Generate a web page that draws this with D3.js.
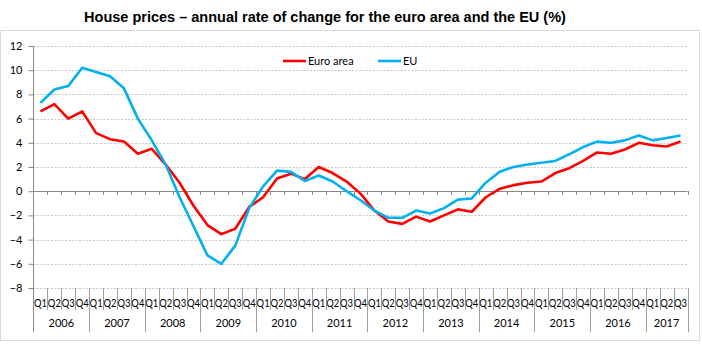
<!DOCTYPE html>
<html><head><meta charset="utf-8">
<script src="https://cdn.jsdelivr.net/npm/d3@7"></script>
<style>body{margin:0;background:#fff}svg{display:block}</style>
</head><body><svg id="c" width="702" height="359"></svg>
<script>
const years = ["2006","2007","2008","2009","2010","2011","2012","2013","2014","2015","2016","2017"];
const quarterLabels = ["Q1","Q2","Q3","Q4"];
const euroArea = [6.6,7.2,6.0,6.6,4.8,4.3,4.1,3.1,3.5,2.2, 0.7,-1.2,-2.8,-3.55,-3.1,-1.3,-0.5,1.05,1.45,1.0, 2.0,1.5,0.8,-0.2,-1.6,-2.5,-2.7,-2.1,-2.5,-2.0, -1.5,-1.7,-0.5,0.2,0.5,0.7,0.8,1.5,1.9,2.5, 3.2,3.1,3.45,4.0,3.8,3.7,4.1];
const eu = [7.3,8.4,8.7,10.2,9.85,9.5,8.5,6.0,4.2,2.2, -0.5,-2.9,-5.3,-6.0,-4.5,-1.4,0.4,1.7,1.6,0.85, 1.3,0.8,0.0,-0.75,-1.6,-2.2,-2.2,-1.6,-1.85,-1.4, -0.7,-0.6,0.7,1.6,2.0,2.2,2.35,2.5,3.05,3.65, 4.1,4.0,4.2,4.6,4.2,4.4,4.6];
const yTicks = [12,10,8,6,4,2,0,-2,-4,-6,-8];
const title = "House prices \u2013 annual rate of change for the euro area and the EU (%)";
const seriesNames = ["Euro area","EU"];
const colors = ["#ff0000","#00b0f0"];

const cats = [];
years.forEach(y => quarterLabels.forEach(q => cats.push(y + q)));
const n = euroArea.length;
const categories = cats.slice(0, n);

const svg = d3.select("#c");
const L = 33.5, R = 687.5, T = 46, B = 288;
const x = d3.scaleBand().domain(categories).range([L, R]);
const y = d3.scaleLinear().domain([-8, 12]).range([B, T]);
const font = "Lato, 'Noto Sans', sans-serif";

// frame
svg.append("rect").attr("x",0.5).attr("y",30.5).attr("width",699).attr("height",310)
  .attr("fill","none").attr("stroke","#d9d9d9");

// title
svg.append("text").attr("x",325).attr("y",22).attr("text-anchor","middle")
  .attr("font-family","'Liberation Sans', Arial, sans-serif").attr("font-weight","bold")
  .attr("font-size",14.5).attr("fill","#000").text(title);

// gridlines
svg.append("g").selectAll("line").data(yTicks.filter(d => d !== 0)).join("line")
  .attr("x1",L).attr("x2",R).attr("y1",d=>Math.round(y(d))+0.5).attr("y2",d=>Math.round(y(d))+0.5)
  .attr("stroke","#c8c8c8").attr("stroke-dasharray","2,1.5");

// y axis
const yAxis = d3.axisLeft(y).tickValues(yTicks).tickSize(5).tickPadding(6);
const gy = svg.append("g").attr("transform",`translate(${L},0)`).call(yAxis);
gy.select(".domain").remove();
gy.selectAll(".tick line").attr("stroke","#888");
gy.selectAll("text").attr("font-family",font).attr("font-size",11).attr("fill","#000");
svg.append("line").attr("x1",L).attr("x2",L).attr("y1",T).attr("y2",332).attr("stroke","#888");

// zero axis with ticks at slot boundaries
svg.append("line").attr("x1",L).attr("x2",R).attr("y1",Math.round(y(0))+0.5).attr("y2",Math.round(y(0))+0.5).attr("stroke","#888");
const bounds = d3.range(n + 1).map(i => L + i * x.step());
svg.append("g").selectAll("line").data(bounds.slice(1)).join("line")
  .attr("x1",d=>Math.round(d)+0.5).attr("x2",d=>Math.round(d)+0.5)
  .attr("y1",Math.round(y(0))).attr("y2",Math.round(y(0))+4).attr("stroke","#888");

// category label lines
svg.append("g").selectAll("line").data(bounds.slice(1)).join("line")
  .attr("x1",d=>Math.round(d)+0.5).attr("x2",d=>Math.round(d)+0.5)
  .attr("y1",B).attr("y2",(d,i)=> ((i+1)%4===0 || i===n-1) ? 332 : 310).attr("stroke","#a0a0a0");

// quarter labels
svg.append("g").selectAll("text").data(categories).join("text")
  .attr("x",d=>x(d)+x.bandwidth()/2).attr("y",307).attr("text-anchor","middle")
  .attr("font-family",font).attr("font-size",10.5).attr("fill","#000")
  .attr("textLength",13).attr("lengthAdjust","spacingAndGlyphs")
  .text(d=>d.slice(4));

// year labels
svg.append("g").selectAll("text").data(years).join("text")
  .attr("x",(d,i)=>{
    const qs = categories.filter(c=>c.startsWith(d));
    return (x(qs[0]) + x(qs[qs.length-1]) + x.bandwidth())/2;
  })
  .attr("y",327).attr("text-anchor","middle")
  .attr("font-family",font).attr("font-size",11).attr("fill","#000").text(d=>d);

// lines
const line = d3.line().x((d,i)=>x(categories[i])+x.bandwidth()/2).y(d=>y(d));
[euroArea, eu].forEach((s,k)=>{
  svg.append("path").datum(s).attr("d",line).attr("fill","none")
    .attr("stroke",colors[k]).attr("stroke-width",2.6).attr("stroke-linejoin","round");
});
// redraw euro area on top? In reference red appears on top in places; keep order
// legend
const lg = [{x:283, tx:308},{x:378, tx:403}];
lg.forEach((p,k)=>{
  svg.append("line").attr("x1",p.x).attr("x2",p.x+23).attr("y1",61).attr("y2",61)
    .attr("stroke",colors[k]).attr("stroke-width",2.6);
  svg.append("text").attr("x",p.tx).attr("y",65).attr("font-family",font).attr("font-size",11)
    .attr("fill","#000").text(seriesNames[k]);
});
</script></body></html>
